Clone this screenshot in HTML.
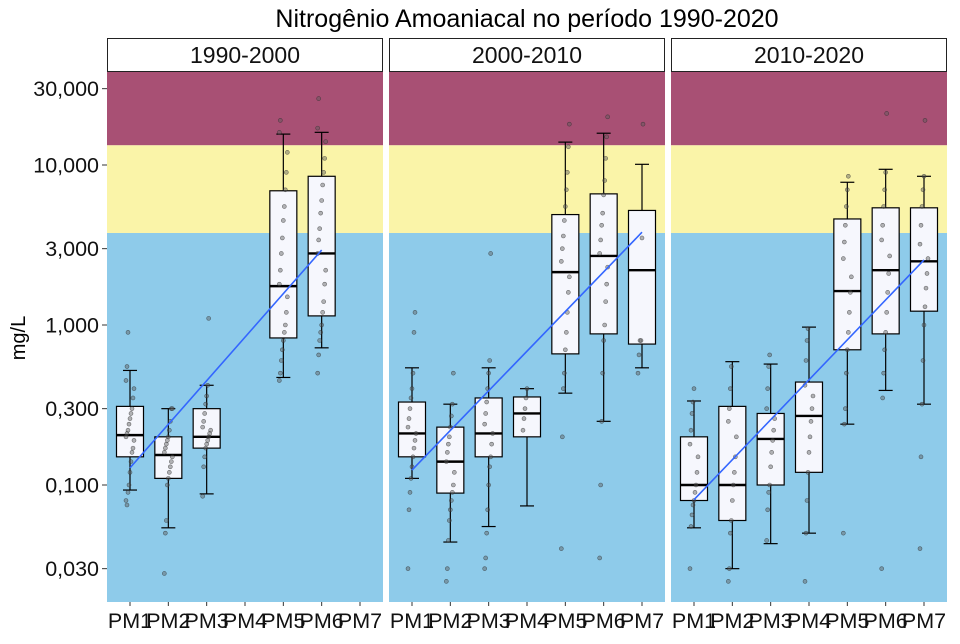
<!DOCTYPE html>
<html><head><meta charset="utf-8"><style>
body{margin:0;background:#fff;}
svg text{font-family:"Liberation Sans",sans-serif;}
</style></head><body>
<svg id="chart" width="960" height="639" viewBox="0 0 960 639" xmlns="http://www.w3.org/2000/svg">
<text x="527" y="27" font-size="25" text-anchor="middle">Nitrogênio Amoaniacal no período 1990-2020</text>
<text transform="translate(25,338) rotate(-90)" font-size="20" text-anchor="middle">mg/L</text>
<g id="root"></g>
</svg>
<script>
const categories = ["PM1","PM2","PM3","PM4","PM5","PM6","PM7"];
const panels = ["1990-2000","2000-2010","2010-2020"];
const yTicks = [30,10,3,1,0.3,0.1,0.03];
const yTickLabels = ["30,000","10,000","3,000","1,000","0,300","0,100","0,030"];
const bandLimits = [3.76, 13.3];
// [low whisker, q1, median, q3, high whisker] per category, null = no data
const stats1990 = [[0.093,0.15,0.205,0.31,0.52],[0.054,0.11,0.154,0.2,0.3],[0.088,0.17,0.2,0.3,0.42],null,[0.47,0.83,1.75,6.9,15.6],[0.72,1.14,2.8,8.5,16],null];
const stats2000 = [[0.11,0.15,0.21,0.33,0.54],[0.044,0.089,0.14,0.23,0.32],[0.055,0.15,0.21,0.35,0.54],[0.074,0.2,0.28,0.355,0.4],[0.375,0.66,2.14,4.9,13.9],[0.25,0.88,2.7,6.6,15.8],[0.54,0.76,2.2,5.2,10.1]];
const stats2010 = [[0.054,0.08,0.1,0.2,0.335],[0.03,0.06,0.1,0.31,0.59],[0.043,0.1,0.194,0.28,0.57],[0.05,0.12,0.27,0.44,0.97],[0.24,0.7,1.63,4.6,7.8],[0.39,0.88,2.2,5.4,9.4],[0.32,1.22,2.5,5.4,8.5]];
// trend line value at first and last category index
const trend1990 = [0,0.128,5,2.94];
const trend2000 = [0,0.124,6,3.8];
const trend2010 = [0,0.081,6,2.55];
// observed points
const pts1990 = [[0.08,0.075,0.09,0.1,0.12,0.14,0.16,0.17,0.19,0.2,0.21,0.22,0.24,0.26,0.28,0.3,0.35,0.4,0.45,0.55,0.9],
 [0.028,0.05,0.06,0.1,0.11,0.12,0.13,0.14,0.15,0.16,0.17,0.18,0.19,0.2,0.22,0.25,0.3,0.3],
 [0.085,0.13,0.15,0.17,0.18,0.19,0.2,0.21,0.22,0.23,0.25,0.28,0.32,0.36,0.42,1.1],[],
 [0.45,0.5,0.6,0.7,0.8,0.9,1,1.2,1.5,1.8,2.2,2.8,3.5,4.5,5.5,7,9,12,16,19],
 [0.5,0.65,0.8,0.9,1,1.2,1.4,1.8,2.2,2.8,3.4,4,5,6,7.5,9,11,14,17,26],[]];
const pts2000 = [[0.03,0.07,0.09,0.11,0.13,0.15,0.17,0.19,0.21,0.23,0.26,0.3,0.35,0.4,0.5,0.9,1.2],
 [0.025,0.03,0.045,0.06,0.07,0.08,0.09,0.1,0.12,0.14,0.16,0.18,0.2,0.23,0.27,0.32,0.5],
 [0.03,0.035,0.05,0.07,0.1,0.13,0.15,0.18,0.21,0.24,0.28,0.33,0.4,0.5,0.6,2.8],
 [0.22,0.26,0.3,0.35,0.4],
 [0.04,0.2,0.4,0.5,0.7,0.9,1.2,1.6,2,2.5,3,3.6,4.5,5.5,7,9,13,18],
 [0.035,0.1,0.25,0.5,0.8,1,1.4,1.8,2.3,2.8,3.4,4.2,5,6.5,8,11,15,20],
 [0.5,0.65,0.8,0.8,3.5,18]];
const pts2010 = [[0.03,0.055,0.065,0.075,0.08,0.09,0.1,0.12,0.15,0.18,0.22,0.28,0.33,0.4],
 [0.025,0.03,0.05,0.06,0.08,0.1,0.12,0.15,0.2,0.25,0.3,0.4,0.55],
 [0.045,0.07,0.09,0.1,0.13,0.16,0.19,0.22,0.26,0.3,0.4,0.55,0.65],
 [0.025,0.05,0.08,0.12,0.16,0.2,0.25,0.3,0.36,0.42,0.6,0.8,0.95],
 [0.05,0.24,0.3,0.5,0.7,0.9,1.2,1.6,2,2.6,3.3,4.2,5.5,7,8.5],
 [0.03,0.35,0.5,0.7,0.9,1.2,1.6,2.1,2.7,3.4,4.2,5.5,7,9,21],
 [0.04,0.15,0.32,0.6,1,1.3,1.7,2.1,2.6,3.2,4.2,5.5,7,8.5,19]];
const allStats=[stats1990,stats2000,stats2010], allTrend=[trend1990,trend2000,trend2010], allPts=[pts1990,pts2000,pts2010];

const NS="http://www.w3.org/2000/svg", root=document.getElementById('root');
const PT=72, PB=602, panelX=[107,389,671], PW=276;
function y(v){return 325-160*Math.log10(v);}
function xs(p,i){return panelX[p]+(i+0.6)*PW/7.2;}
function mk(tag,attrs,parent){const e=document.createElementNS(NS,tag);for(const k in attrs)e.setAttribute(k,attrs[k]);(parent||root).appendChild(e);return e;}

yTicks.forEach((t,i)=>{
  const tl=mk('line',{x1:102,x2:107,y1:y(t),y2:y(t),stroke:'#333','stroke-width':1});
  
  
  const tx=mk('text',{x:99,y:y(t)+7.5,'font-size':21.5,'text-anchor':'end',fill:'#111'});
  tx.textContent=yTickLabels[i];
  
  
});

panels.forEach((name,p)=>{
  const g=mk('g',{});
  
  
  const x0=panelX[p];
  const b1=mk('rect',{x:x0,y:y(bandLimits[0]),width:PW,height:PB-y(bandLimits[0]),fill:'#8ecbea'},g);
  
  
  const b2=mk('rect',{x:x0,y:y(bandLimits[1]),width:PW,height:y(bandLimits[0])-y(bandLimits[1]),fill:'#faf4a8'},g);
  
  
  const b3=mk('rect',{x:x0,y:PT,width:PW,height:y(bandLimits[1])-PT,fill:'#a85074'},g);
  
  
  const st=mk('rect',{x:x0+0.5,y:38.5,width:PW-1,height:33,fill:'#fff',stroke:'#222','stroke-width':1},g);
  
  
  const stt=mk('text',{x:x0+PW/2,y:63,'font-size':23,'text-anchor':'middle',fill:'#111'},g);
  stt.textContent=name;
  
  
  categories.forEach((c,i)=>{
    const cx=xs(p,i);
    const tk=mk('line',{x1:cx,x2:cx,y1:PB,y2:PB+4,stroke:'#333'},g);
    
    
    const lb=mk('text',{x:cx,y:628,'font-size':21.5,'text-anchor':'middle',fill:'#111'},g);
    lb.textContent=c;
    
    
    const s=allStats[p][i];
    if(s){
      const bx=mk('g',{},g);
      
      
      mk('line',{x1:cx,x2:cx,y1:y(s[4]),y2:y(s[3]),stroke:'#000','stroke-width':1.2},bx);
      mk('line',{x1:cx,x2:cx,y1:y(s[1]),y2:y(s[0]),stroke:'#000','stroke-width':1.2},bx);
      mk('line',{x1:cx-7,x2:cx+7,y1:y(s[4]),y2:y(s[4]),stroke:'#000','stroke-width':1.2},bx);
      mk('line',{x1:cx-7,x2:cx+7,y1:y(s[0]),y2:y(s[0]),stroke:'#000','stroke-width':1.2},bx);
      mk('rect',{x:cx-13.5,y:y(s[3]),width:27,height:y(s[1])-y(s[3]),fill:'#f6f7fd',stroke:'#000','stroke-width':1.2},bx);
      mk('line',{x1:cx-13.5,x2:cx+13.5,y1:y(s[2]),y2:y(s[2]),stroke:'#000','stroke-width':2.4},bx);
    }
    allPts[p][i].forEach((v,k)=>{
      const off=((k*37)%9)-4;
      const pt=mk('circle',{cx:cx+off,cy:y(v),r:2,fill:'rgba(90,90,90,0.45)',stroke:'rgba(40,40,40,0.6)','stroke-width':0.6},g);
      
      
    });
  });
  const t=allTrend[p];
  const tr=mk('line',{x1:xs(p,t[0]),y1:y(t[1]),x2:xs(p,t[2]),y2:y(t[3]),stroke:'#3366ff','stroke-width':1.6},g);
  
  
});
</script>
</body></html>
